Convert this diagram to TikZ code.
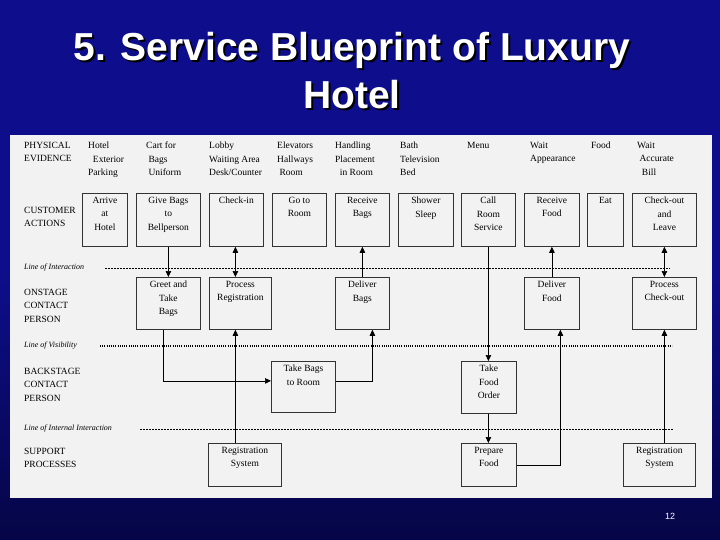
\documentclass[tikz,border=0pt]{standalone}
\usepackage{fontspec}
\setmainfont{Liberation Serif}
\newfontfamily\titlefont{Liberation Sans}
\usetikzlibrary{arrows.meta,calc}
\definecolor{bgblue}{RGB}{14,14,140}
\definecolor{bgdark}{RGB}{5,5,70}
\definecolor{panel}{RGB}{242,242,242}
\newcommand\bx[6]{\node (#1) [box,minimum width=#4pt,minimum height=#5pt] at (#2,#3) {};
  \node (#1t) [anchor=north,inner sep=0pt,align=center,font=\fontsize{9.5}{13.5}\selectfont] at ($(#1.north)+(0,4)$) {#6};}
\begin{document}
\begin{tikzpicture}[x=1pt,y=-1pt,
  box/.style={draw=black!80,line width=0.8pt,inner sep=0pt,anchor=north west},
  pe/.style={anchor=north west,inner sep=0pt,align=left,font=\fontsize{9.5}{13.5}\selectfont},
  lab/.style={anchor=north west,inner sep=0pt,align=left,font=\fontsize{9.5}{13.5}\selectfont},
  lineof/.style={anchor=west,inner sep=0pt,font=\itshape\fontsize{8}{9}\selectfont},
  ttl/.style={font=\titlefont\bfseries\fontsize{39}{48}\selectfont,align=center},
  arr/.style={-{Triangle[length=6pt,width=5.5pt]},line width=0.7pt},
  darr/.style={{Triangle[length=6pt,width=5.5pt]}-{Triangle[length=6pt,width=5.5pt]},line width=0.7pt}]
\useasboundingbox (0,0) rectangle (720,540);
\shade[top color=bgblue,bottom color=bgdark,middle color=bgblue] (0,0) rectangle (720,540);
\fill[panel] (10,135) rectangle (712,498);
% title
\node (shadow) [ttl,text=black] at (354,73) {5. Service Blueprint of Luxury\\Hotel};
\node (title) [ttl,text=white] at (352,71) {5. Service Blueprint of Luxury\\Hotel};
\node (pg) [font=\titlefont\fontsize{9}{10}\selectfont,text=white] at (670,516) {12};
% row labels
\node (l1) [lab] at (24,142) {PHYSICAL\\EVIDENCE};
\node (l2) [lab] at (24,207) {CUSTOMER\\ACTIONS};
\node (l3) [lab] at (24,289) {ONSTAGE\\CONTACT\\PERSON};
\node (l4) [lab] at (24,368) {BACKSTAGE\\CONTACT\\PERSON};
\node (l5) [lab] at (24,448) {SUPPORT\\PROCESSES};
\node (li1) [lineof] at (24,268) {Line of Interaction};
\node (li2) [lineof] at (24,346) {Line of Visibility};
\node (li3) [lineof] at (24,429) {Line of Internal Interaction};
\coordinate (d1a) at (105,268); \coordinate (d1b) at (670,268);
\coordinate (d2a) at (100,346); \coordinate (d2b) at (672,346);
\coordinate (d3a) at (140,429); \coordinate (d3b) at (673,429);
\draw[dash pattern=on 2pt off 1pt,line width=0.6pt] (d1a) -- (d1b);
\draw[line width=1.4pt,dash pattern=on 0.8pt off 1.4pt] (d2a) -- (d2b);
\draw[dash pattern=on 2pt off 1pt,line width=0.6pt] (d3a) -- (d3b);
% physical evidence
\node (p1) [pe] at (88,142) {Hotel\\\ \ Exterior\\Parking};
\node (p2) [pe] at (146,142) {Cart for\\\ Bags\\\ Uniform};
\node (p3) [pe] at (209,142) {Lobby\\Waiting Area\\Desk/Counter};
\node (p4) [pe] at (277,142) {Elevators\\Hallways\\\ Room};
\node (p5) [pe] at (335,142) {Handling\\Placement\\\ \ in Room};
\node (p6) [pe] at (400,142) {Bath\\Television\\Bed};
\node (p7) [pe] at (467,142) {Menu};
\node (p8) [pe] at (530,142) {Wait\\Appearance};
\node (p9) [pe] at (591,142) {Food};
\node (p10) [pe] at (637,142) {Wait\\\ Accurate\\\ \ Bill};
% customer actions
\bx{arrive}{82}{193}{45}{53}{Arrive\\at\\Hotel}
\bx{give}{136}{193}{64}{53}{Give Bags\\to\\Bellperson}
\bx{checkin}{209}{193}{54}{53}{Check-in}
\bx{goroom}{272}{193}{54}{53}{Go to\\Room}
\bx{recbags}{335}{193}{54}{53}{Receive\\Bags}
\bx{shower}{398}{193}{55}{53}{Shower\\Sleep}
\bx{call}{461}{193}{54}{53}{Call\\Room\\Service}
\bx{recfood}{524}{193}{55}{53}{Receive\\Food}
\bx{eat}{587}{193}{36}{53}{Eat}
\bx{checkout}{632}{193}{64}{53}{Check-out\\and\\Leave}
% onstage
\bx{greet}{136}{277}{64}{52}{Greet and\\Take\\Bags}
\bx{procreg}{209}{277}{62}{52}{Process\\Registration}
\bx{delbags}{335}{277}{54}{52}{Deliver\\Bags}
\bx{delfood}{524}{277}{55}{52}{Deliver\\Food}
\bx{proccheck}{632}{277}{64}{52}{Process\\Check-out}
% backstage
\bx{takebags}{271}{361}{64}{51}{Take Bags\\to Room}
\bx{takefood}{461}{361}{55}{52}{Take\\Food\\Order}
% support
\bx{regsys}{208}{443}{73}{43}{Registration\\System}
\bx{prepfood}{461}{443}{55}{43}{Prepare\\Food}
\bx{regsys2}{623}{443}{72}{43}{Registration\\System}
% connectors
\draw[arr] (give.south) -- (greet.north);
\draw[darr] ([xshift=-5pt]procreg.north) -- ([xshift=-5pt]procreg.north |- checkin.south);
\draw[arr] ([xshift=-5pt]greet.south) |- ([yshift=6pt]takebags.west);
\draw[arr] ([xshift=-5pt]procreg.south |- regsys.north) -- ([xshift=-5pt]procreg.south);
\draw[arr] ([yshift=6pt]takebags.east) -| ([xshift=10pt]delbags.south);
\draw[arr] (delbags.north) -- (recbags.south);
\draw[arr] (call.south) -- (call.south |- takefood.north);
\draw[arr] (call.south |- takefood.south) -- (call.south |- prepfood.north);
\draw[arr] (prepfood.east) -| ([xshift=8.5pt]delfood.south);
\draw[arr] (delfood.north) -- (recfood.south);
\draw[darr] (proccheck.north) -- (checkout.south);
\draw[arr] (proccheck.south |- regsys2.north) -- (proccheck.south);
\end{tikzpicture}
\end{document}
